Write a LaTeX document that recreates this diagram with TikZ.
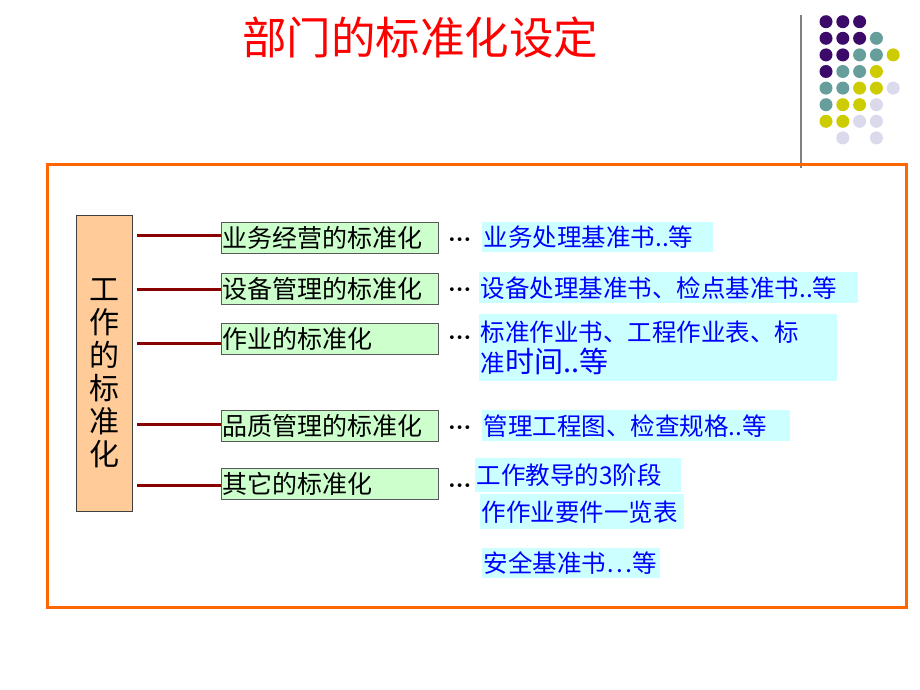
\documentclass[tikz,border=0pt]{standalone}
\usepackage{fontspec}
\usetikzlibrary{calc}
\newfontfamily\cjk{Noto Sans CJK SC}
\newfontfamily\dv{DejaVu Sans}
\definecolor{frameor}{RGB}{255,102,0}
\definecolor{peach}{RGB}{255,204,153}
\definecolor{lgreen}{RGB}{204,255,204}
\definecolor{lcyan}{RGB}{204,255,255}
\definecolor{conred}{RGB}{136,0,0}
\definecolor{dpurple}{RGB}{60,10,105}
\definecolor{dteal}{RGB}{102,158,156}
\definecolor{dyellow}{RGB}{204,204,0}
\definecolor{dlav}{RGB}{218,218,236}
\begin{document}
\begin{tikzpicture}[x=1pt,y=-1pt,
  every node/.style={font=\cjk},
  pbox/.style={draw=black!75, fill=peach, line width=1pt, anchor=north west, inner sep=0},
  gbox/.style={draw=black!65, fill=lgreen, line width=1.2pt, anchor=north west,
    minimum height=31pt, text width=215pt, inner xsep=1pt, inner ysep=0pt, align=left,
    font=\cjk\fontsize{25}{27}\selectfont},
  cbox/.style={fill=lcyan, anchor=north west, text=blue, inner xsep=1.5pt, inner ysep=0pt,
    align=left, font=\cjk\fontsize{24.5}{31}\selectfont},
  conn/.style={draw=conred, line width=3pt},
  leader/.style={anchor=base west, inner sep=0, font=\dv\fontsize{13}{15}\selectfont},
  dot/.style={circle, inner sep=0, minimum size=13pt}
]
\useasboundingbox[fill=white] (0,0) rectangle (920,690);

% title
\node[text=red, font=\cjk\fontsize{44.5}{47}\selectfont] (title) at (420,38) {部门的标准化设定};

% decoration dots
\coordinate (g0) at (801,15);
\coordinate (g1) at (801,168);
\draw[gray, line width=1.5pt] (g0) -- (g1);
\foreach \row/\cols in {0/{dpurple,dpurple,dpurple},
                        1/{dpurple,dpurple,dpurple,dteal},
                        2/{dpurple,dpurple,dteal,dteal,dyellow},
                        3/{dpurple,dteal,dteal,dyellow},
                        4/{dteal,dteal,dyellow,dyellow,dlav},
                        5/{dteal,dyellow,dyellow,dlav},
                        6/{dyellow,dyellow,dlav,dlav},
                        7/{none,dlav,none,dlav}}{
  \foreach \c [count=\i from 0] in \cols {
    \node[dot, fill=\c] (dt-\row-\i) at ({826+16.8*\i},{21.7+16.6*\row}) {};
  }
}

% orange frame
\node[draw=frameor, line width=3pt, anchor=north west, minimum width=859pt, minimum height=443pt, inner sep=0] (frame) at (46,163) {};

% left box
\node[pbox, minimum width=56pt, minimum height=296pt] (lb) at (76,215) {};
\node[align=center, inner sep=0, font=\cjk\fontsize{30}{33}\selectfont] (lbt) at ($(lb.center)+(0,10)$) {工\\作\\的\\标\\准\\化};

% green boxes
\node[gbox] (b1) at (221,222) {业务经营的标准化};
\node[gbox] (b2) at (221,273) {设备管理的标准化};
\node[gbox] (b3) at (221,323) {作业的标准化};
\node[gbox] (b4) at (221,410) {品质管理的标准化};
\node[gbox] (b5) at (221,468) {其它的标准化};

% connectors
\draw[conn] ([xshift=4pt,yshift=2.5pt]lb.east|-b1.west) -- ([yshift=2.5pt]b1.west);
\draw[conn] ([xshift=4pt]lb.east|-b2.west) -- (b2.west);
\draw[conn] ([xshift=4pt,yshift=-4pt]lb.east|-b3.west) -- ([yshift=-4pt]b3.west);
\draw[conn] ([xshift=4pt,yshift=2pt]lb.east|-b4.west) -- ([yshift=2pt]b4.west);
\draw[conn] ([xshift=4pt,yshift=-1pt]lb.east|-b5.west) -- ([yshift=-1pt]b5.west);

% leaders
\node[leader] (l1) at (448,244.5) {•••};
\node[leader] (l2) at (448,294.5) {•••};
\node[leader] (l3) at (448,342.5) {•••};
\node[leader] (l4) at (448,432.5) {•••};
\node[leader] (l5) at (448,490.5) {•••};

% cyan boxes
\node[cbox, minimum height=30pt, text width=228pt] (c1) at (482,222) {业务处理基准书..等};
\node[cbox, minimum height=31pt, text width=376pt] (c2) at (479,272) {设备处理基准书、检点基准书..等};
\node[cbox, minimum height=67pt, text width=355pt] (c3) at (479,314) {标准作业书、工程作业表、标\\准{\fontsize{29}{31}\selectfont 时间..等}};
\node[cbox, minimum height=31pt, text width=305pt] (c4) at (482,410) {管理工程图、检查规格..等};
\node[cbox, minimum height=34pt, text width=203pt] (c5) at (475,458) {工作教导的3阶段};
\node[cbox, minimum height=35pt, text width=201pt] (c6) at (480,494) {作作业要件一览表};
\node[cbox, minimum height=30pt, text width=175pt] (c7) at (482,548) {安全基准书…等};
\end{tikzpicture}
\end{document}
